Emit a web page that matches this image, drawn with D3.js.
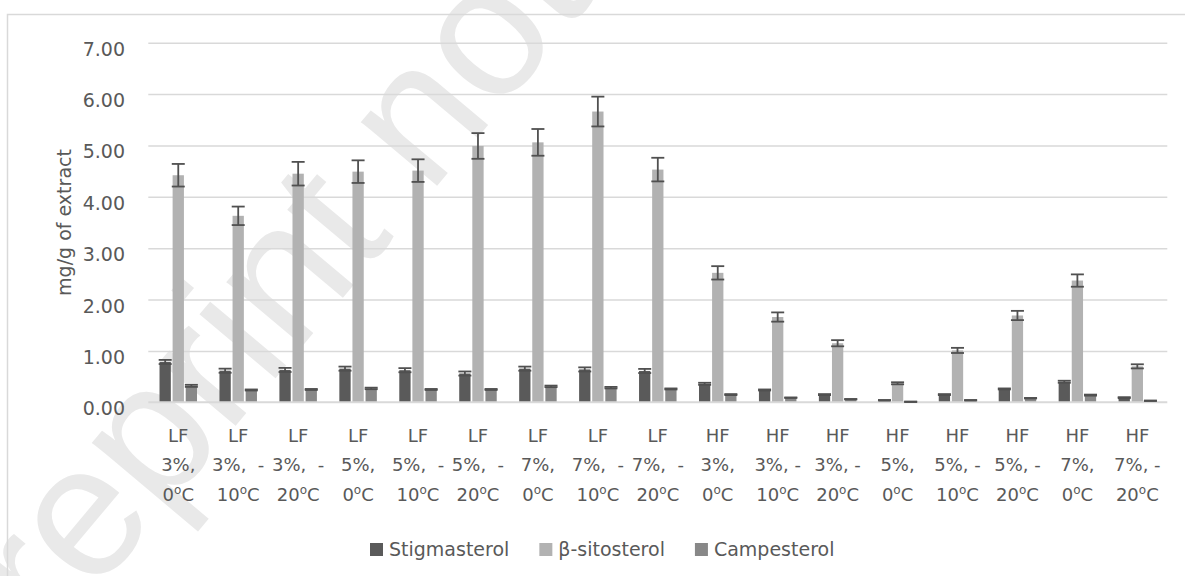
<!DOCTYPE html>
<html>
<head>
<meta charset="utf-8">
<script src="https://cdn.jsdelivr.net/npm/d3@7"></script>
<style>
  html, body { margin: 0; padding: 0; background: #fff; }
  svg { display: block; font-family: "DejaVu Sans", sans-serif; }
</style>
</head>
<body>
<svg id="chart" width="1185" height="576"></svg>
<script>
// Category labels, split into the three wrapped lines (fat level / salt / temperature)
const fatLevel = ["LF","LF","LF","LF","LF","LF","LF","LF","LF","HF","HF","HF","HF","HF","HF","HF","HF"];
const saltLabel = ["3%,","3%,  -","3%,  -","5%,","5%,  -","5%,  -","7%,","7%,  -","7%,  -",
                   "3%,","3%, -","3%, -","5%,","5%, -","5%, -","7%,","7%, -"];
const tempLabel = ["0","10","20","0","10","20","0","10","20","0","10","20","0","10","20","0","20"];

const seriesNames = ["Stigmasterol", "β-sitosterol", "Campesterol"];

// mg/g of extract, mean and error
const stigmasterol    = [0.785,0.615,0.63,0.655,0.625,0.56,0.655,0.64,0.61,0.36,0.24,0.15,0.04,0.15,0.26,0.40,0.09];
const stigmasterolErr = [0.04,0.04,0.04,0.04,0.04,0.04,0.04,0.04,0.04,0.02,0.01,0.01,0.005,0.01,0.01,0.02,0.01];
const sitosterol      = [4.42,3.63,4.45,4.49,4.51,4.99,5.06,5.66,4.53,2.52,1.66,1.15,0.37,1.01,1.69,2.37,0.70];
const sitosterolErr   = [0.22,0.18,0.23,0.22,0.22,0.25,0.26,0.29,0.23,0.13,0.09,0.06,0.02,0.05,0.09,0.12,0.04];
const campesterol     = [0.32,0.24,0.25,0.27,0.25,0.25,0.31,0.285,0.26,0.15,0.09,0.06,0.01,0.04,0.08,0.14,0.03];
const campesterolErr  = [0.02,0.01,0.01,0.015,0.01,0.01,0.015,0.015,0.01,0.01,0.005,0.005,0.005,0.005,0.005,0.01,0.005];

const yTicks = [0, 1, 2, 3, 4, 5, 6, 7];
const yTitle = "mg/g of extract";
const watermark = "Preprint not peer reviewed";

const colors = ["#5a5a5a", "#b2b2b2", "#888888"];
const textColor = "#595959";
const gridColor = "#d9d9d9";

const svg = d3.select("#chart");
const plot = { left: 148.3, right: 1167.3, top: 42.7, bottom: 402.3 };

// Watermark sits beneath the chart content
svg.append("text")
  .attr("transform", "translate(-28,740) rotate(-50)")
  .attr("font-family", "'Liberation Sans', Arial, sans-serif")
  .attr("font-size", 188)
  .attr("fill", "#e9e9e9")
  .text(watermark);

// Chart area border
svg.append("rect")
  .attr("x", 7.5).attr("y", 14.5)
  .attr("width", 1200).attr("height", 600)
  .attr("fill", "none")
  .attr("stroke", gridColor)
  .attr("stroke-width", 1.5);

const catIndex = d3.range(fatLevel.length);
const x = d3.scaleBand().domain(catIndex).range([plot.left, plot.right]).padding(0);
const groupWidth = 37.5;
const x1 = d3.scaleBand().domain(seriesNames).range([0, groupWidth]).paddingInner(0.137);
const groupOffset = (x.bandwidth() - groupWidth) / 2;
const y = d3.scaleLinear().domain([0, 7]).range([plot.bottom, plot.top]);

// Horizontal gridlines
const grid = svg.append("g")
  .attr("transform", `translate(${plot.left},0)`)
  .call(d3.axisLeft(y).tickValues(yTicks.filter(d => d > 0)).tickSize(-(plot.right - plot.left)).tickFormat(""));
grid.select(".domain").remove();
grid.selectAll("line").attr("stroke", gridColor).attr("stroke-width", 1.5);

// Y axis labels
const yAxis = svg.append("g")
  .attr("transform", `translate(${plot.left},0)`)
  .call(d3.axisLeft(y).tickValues(yTicks).tickSize(0).tickPadding(23.3).tickFormat(d3.format(".2f")));
yAxis.select(".domain").remove();
yAxis.selectAll("text")
  .attr("font-family", "'DejaVu Sans', sans-serif")
  .attr("font-size", 19)
  .attr("fill", textColor)
  .attr("dy", "0.66em");

// Y axis title
svg.append("text")
  .attr("transform", "translate(71,222.5) rotate(-90)")
  .attr("text-anchor", "middle")
  .attr("font-size", 19)
  .attr("fill", textColor)
  .text(yTitle);

// Bars
const seriesData = [
  { name: seriesNames[0], values: stigmasterol, errs: stigmasterolErr, color: colors[0] },
  { name: seriesNames[1], values: sitosterol,   errs: sitosterolErr,   color: colors[1] },
  { name: seriesNames[2], values: campesterol,  errs: campesterolErr,  color: colors[2] }
];

const barsG = svg.append("g");
seriesData.forEach(s => {
  const bx = i => x(i) + groupOffset + x1(s.name);
  barsG.append("g").selectAll("rect")
    .data(catIndex)
    .join("rect")
    .attr("x", i => bx(i))
    .attr("y", i => y(s.values[i]))
    .attr("width", x1.bandwidth())
    .attr("height", i => y(0) - y(s.values[i]))
    .attr("fill", s.color);
});

// Category axis line at zero
svg.append("line")
  .attr("x1", plot.left).attr("x2", plot.right)
  .attr("y1", y(0)).attr("y2", y(0))
  .attr("stroke", gridColor).attr("stroke-width", 2);

// Error bars
const errG = svg.append("g").attr("stroke", "#505050").attr("stroke-width", 1.8).attr("fill", "none");
const capHalf = 6.5;
seriesData.forEach(s => {
  const cx = i => x(i) + groupOffset + x1(s.name) + x1.bandwidth() / 2;
  const g = errG.append("g");
  catIndex.forEach(i => {
    const hi = y(s.values[i] + s.errs[i]);
    const lo = y(s.values[i] - s.errs[i]);
    g.append("line").attr("x1", cx(i)).attr("x2", cx(i)).attr("y1", hi).attr("y2", lo);
    g.append("line").attr("x1", cx(i) - capHalf).attr("x2", cx(i) + capHalf).attr("y1", hi).attr("y2", hi);
    g.append("line").attr("x1", cx(i) - capHalf).attr("x2", cx(i) + capHalf).attr("y1", lo).attr("y2", lo);
  });
});

// Category labels (three wrapped lines each)
const labelG = svg.append("g")
  .attr("font-size", 18)
  .attr("fill", textColor)
  .attr("text-anchor", "middle");
const lineY = [442, 471.3, 500.6];
catIndex.forEach(i => {
  const cx = x(i) + x.bandwidth() / 2;
  labelG.append("text").attr("x", cx).attr("y", lineY[0]).text(fatLevel[i]);
  labelG.append("text").attr("x", cx).attr("y", lineY[1]).style("white-space", "pre").text(saltLabel[i]);
  const t = labelG.append("text").attr("x", cx).attr("y", lineY[2]);
  t.append("tspan").text(tempLabel[i]);
  t.append("tspan").attr("font-size", 12).attr("dy", -7).text("o");
  t.append("tspan").attr("dy", 7).text("C");
});

// Legend
const legend = svg.append("g").attr("font-size", 19).attr("fill", textColor);
let lx = 370;
seriesData.forEach(s => {
  legend.append("rect")
    .attr("x", lx).attr("y", 543)
    .attr("width", 13).attr("height", 13)
    .attr("fill", s.color);
  const t = legend.append("text")
    .attr("x", lx + 19).attr("y", 555.5)
    .text(s.name);
  lx += 19 + t.node().getComputedTextLength() + 30;
});
</script>
</body>
</html>
